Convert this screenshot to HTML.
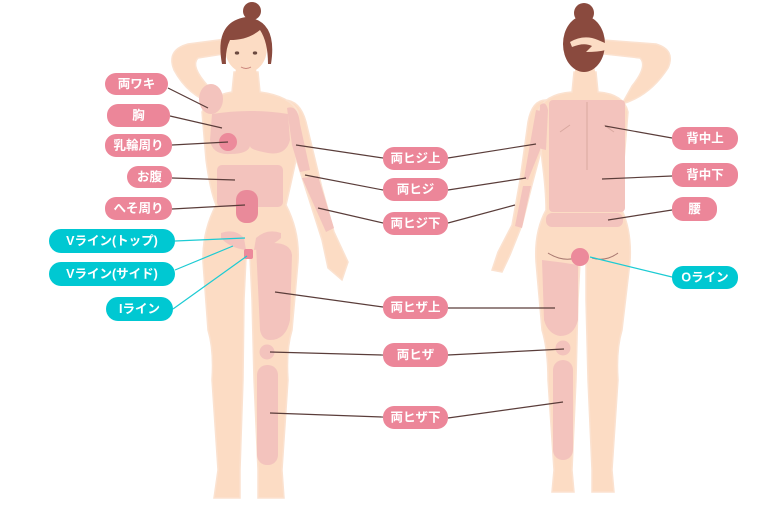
<!DOCTYPE html>
<html><head><meta charset="utf-8"><style>
html,body{margin:0;padding:0;background:#fff;}
svg{display:block}
text{font-family:"Liberation Sans","Noto Sans CJK JP",sans-serif;font-size:12.5px;fill:#fff;text-anchor:middle;dominant-baseline:central;font-weight:bold}
</style></head><body>
<svg width="770" height="510" viewBox="0 0 770 510" xmlns="http://www.w3.org/2000/svg">
<!-- FRONT FIGURE -->
<g stroke="#fbe2d0" stroke-width="1.5">
<path d="M214 104 Q188 96 174 70 Q166 50 188 44 L234 38 L236 52 L198 58 Q190 66 208 86 Z" fill="#fcdcc4"/>
<path d="M284 100 Q300 100 306 122 L322 188 L334 232 L348 262 L342 280 L328 268 L322 240 L308 196 L290 140 Z" fill="#fcdcc4"/>
<path d="M234 72 L258 72 L260 92 Q290 96 298 112 L296 160 Q290 188 286 205 Q300 232 298 262 L292 330 Q286 350 288 380 L282 470 L284 498 L258 498 L258 470 L254 380 L252 300 L250 258 L246 258 L244 300 L243 380 L240 470 L240 498 L214 498 L218 470 L212 380 Q214 350 208 330 L203 262 Q202 232 216 205 Q210 190 206 160 L202 112 Q208 96 232 92 Z" fill="#fcdcc4"/>
</g>
<g fill="#f3c3bd">
<ellipse cx="211" cy="99" rx="12" ry="15"/>
<path d="M212 114 Q250 108 288 114 L290 140 Q286 156 268 153 Q250 150 250 146 Q248 154 230 154 Q212 155 210 140 Z"/>
<path d="M287 108 Q298 104 300 124 L310 170 L300 172 L292 145 Z"/>
<path d="M302 178 L318 176 L334 228 L326 232 Z"/>
<rect x="217" y="165" width="66" height="42" rx="5"/>
<path d="M221 233 Q235 228 244 238 L246 250 Q230 248 221 238 Z"/>
<path d="M281 233 Q267 228 256 238 L254 250 Q270 248 281 238 Z"/>
<path d="M256 245 Q290 238 292 255 L290 320 Q286 340 270 340 Q262 340 260 330 Z"/>
<circle cx="267" cy="352" r="7.5"/>
<rect x="257" y="365" width="21" height="100" rx="10"/>
</g>
<circle cx="228" cy="142" r="9" fill="#ec8a9b"/>
<rect x="236" y="190" width="22" height="33" rx="10" fill="#e98a9a"/>
<rect x="244" y="249" width="9" height="10" rx="2" fill="#ec8a9b"/>
<!-- front head -->
<path d="M236 66 L256 66 L257 82 L235 82 Z" fill="#fcdcc4"/>
<ellipse cx="246" cy="48" rx="21" ry="25" fill="#fcdcc4"/>
<circle cx="252" cy="11" r="9" fill="#8a4a3e"/>
<path d="M222 64 Q214 22 246 17 Q278 20 271 64 L268 64 Q268 42 260 30 Q248 40 230 40 Q225 50 226 64 Z" fill="#8a4a3e"/>
<ellipse cx="237" cy="53" rx="2.2" ry="1.6" fill="#6b4a40"/>
<ellipse cx="255" cy="53" rx="2.2" ry="1.6" fill="#6b4a40"/>
<path d="M241 67 Q246 70 251 67" stroke="#c9837a" stroke-width="1" fill="none"/>
<!-- BACK FIGURE -->
<g stroke="#fbe2d0" stroke-width="1.5">
<path d="M622 104 Q650 96 668 68 Q676 50 656 44 L604 40 L604 54 L640 58 Q648 66 632 86 Z" fill="#fcdcc4"/>
<path d="M546 100 Q532 100 528 122 L520 180 L512 225 L498 252 L492 270 L502 272 L510 255 L522 225 L532 185 L544 140 Z" fill="#fcdcc4"/>
<path d="M574 72 L596 72 L598 92 Q624 94 628 112 L624 160 Q620 190 622 210 Q632 232 630 262 L622 330 Q616 350 618 380 L612 470 L614 492 L592 492 L592 470 L588 380 L586 300 L586 262 L580 262 L578 300 L576 380 L572 470 L574 492 L552 492 L554 470 L548 380 Q548 350 542 330 L536 262 Q534 232 546 210 Q546 190 542 160 L538 112 Q544 94 572 92 Z" fill="#fcdcc4"/>
</g>
<g fill="#f3c3bd">
<rect x="549" y="100" width="76" height="112" rx="4"/>
<path d="M540 105 Q546 100 548 110 L546 150 L538 148 Z"/>
<path d="M536 110 L546 112 L540 150 L528 180 L524 178 Z"/>
<path d="M523 186 L531 186 L522 228 L515 226 Z"/>
<rect x="546" y="213" width="77" height="14" rx="6"/>
<path d="M542 260 Q560 262 578 265 L578 320 Q574 336 560 336 Q548 334 544 320 Z"/>
<circle cx="563" cy="348" r="7.5"/>
<rect x="553" y="360" width="20" height="100" rx="10"/>
</g>
<path d="M587 102 L587 170 M560 132 L570 125 M614 132 L604 125" stroke="#d9a8a0" stroke-width="1" fill="none"/>
<path d="M548 253 Q562 262 576 258 M592 258 Q606 262 618 253" stroke="#a87870" stroke-width="1" fill="none"/>
<circle cx="580" cy="257" r="9" fill="#ec8a9b"/>
<!-- back head -->
<path d="M576 62 L594 62 L596 82 L574 82 Z" fill="#fcdcc4"/>
<ellipse cx="584" cy="44" rx="21" ry="28" fill="#8a4a3e"/>
<circle cx="584" cy="13" r="10" fill="#8a4a3e"/>
<path d="M612 46 L598 40 Q584 34 570 42 L572 47 Q584 42 592 46 L586 52 Q598 52 606 50 Z" fill="#fcdcc4"/>
<!-- LINES -->
<g stroke="#5a3d3a" stroke-width="1.2" fill="none">
<line x1="168" y1="88" x2="208" y2="108"/>
<line x1="170" y1="116" x2="222" y2="128"/>
<line x1="172" y1="145" x2="228" y2="142"/>
<line x1="172" y1="178" x2="235" y2="180"/>
<line x1="172" y1="209" x2="245" y2="205"/>
<line x1="296" y1="145" x2="383" y2="158"/>
<line x1="305" y1="175" x2="383" y2="190"/>
<line x1="318" y1="208" x2="383" y2="223"/>
<line x1="275" y1="292" x2="383" y2="307"/>
<line x1="270" y1="352" x2="383" y2="355"/>
<line x1="270" y1="413" x2="383" y2="417"/>
<line x1="448" y1="158" x2="536" y2="144"/>
<line x1="448" y1="190" x2="526" y2="178"/>
<line x1="448" y1="223" x2="515" y2="205"/>
<line x1="448" y1="308" x2="555" y2="308"/>
<line x1="448" y1="355" x2="564" y2="349"/>
<line x1="448" y1="418" x2="563" y2="402"/>
<line x1="672" y1="138" x2="605" y2="126"/>
<line x1="672" y1="176" x2="602" y2="179"/>
<line x1="672" y1="210" x2="608" y2="220"/>
</g>
<g stroke="#1ccbd3" stroke-width="1.2" fill="none">
<line x1="175" y1="241" x2="245" y2="238"/>
<line x1="175" y1="270" x2="233" y2="246"/>
<line x1="173" y1="309" x2="247" y2="256"/>
<line x1="672" y1="277" x2="590" y2="257"/>
</g>
<!-- LABELS -->
<g fill="#ec8699">
<rect x="105" y="73" width="63" height="22" rx="11"/>
<rect x="107" y="104" width="63" height="23" rx="11"/>
<rect x="105" y="134" width="67" height="23" rx="11"/>
<rect x="127" y="166" width="45" height="22" rx="11"/>
<rect x="105" y="197" width="67" height="23" rx="11"/>
<rect x="383" y="147" width="65" height="23" rx="11"/>
<rect x="383" y="178" width="65" height="23" rx="11"/>
<rect x="383" y="212" width="65" height="23" rx="11"/>
<rect x="383" y="296" width="65" height="23" rx="11"/>
<rect x="383" y="343" width="65" height="24" rx="11"/>
<rect x="383" y="406" width="65" height="23" rx="11"/>
<rect x="672" y="127" width="66" height="23" rx="11"/>
<rect x="672" y="163" width="66" height="24" rx="11"/>
<rect x="672" y="197" width="45" height="24" rx="11"/>
</g>
<g fill="#00c8d2">
<rect x="49" y="229" width="126" height="24" rx="12"/>
<rect x="49" y="262" width="126" height="24" rx="12"/>
<rect x="106" y="297" width="67" height="24" rx="12"/>
<rect x="672" y="266" width="66" height="23" rx="11"/>
</g>
<text x="136.5" y="84">両ワキ</text>
<text x="138.5" y="115.5">胸</text>
<text x="138.5" y="145.5">乳輪周り</text>
<text x="149.5" y="177">お腹</text>
<text x="138.5" y="208.5">へそ周り</text>
<text x="112" y="241">Vライン(トップ)</text>
<text x="112" y="274">Vライン(サイド)</text>
<text x="139.5" y="309">Iライン</text>
<text x="415.5" y="158.5">両ヒジ上</text>
<text x="415.5" y="189.5">両ヒジ</text>
<text x="415.5" y="223.5">両ヒジ下</text>
<text x="415.5" y="307.5">両ヒザ上</text>
<text x="415.5" y="355">両ヒザ</text>
<text x="415.5" y="417.5">両ヒザ下</text>
<text x="705" y="138.5">背中上</text>
<text x="705" y="175">背中下</text>
<text x="694.5" y="209">腰</text>
<text x="705" y="277.5">Oライン</text>
</svg>
</body></html>
